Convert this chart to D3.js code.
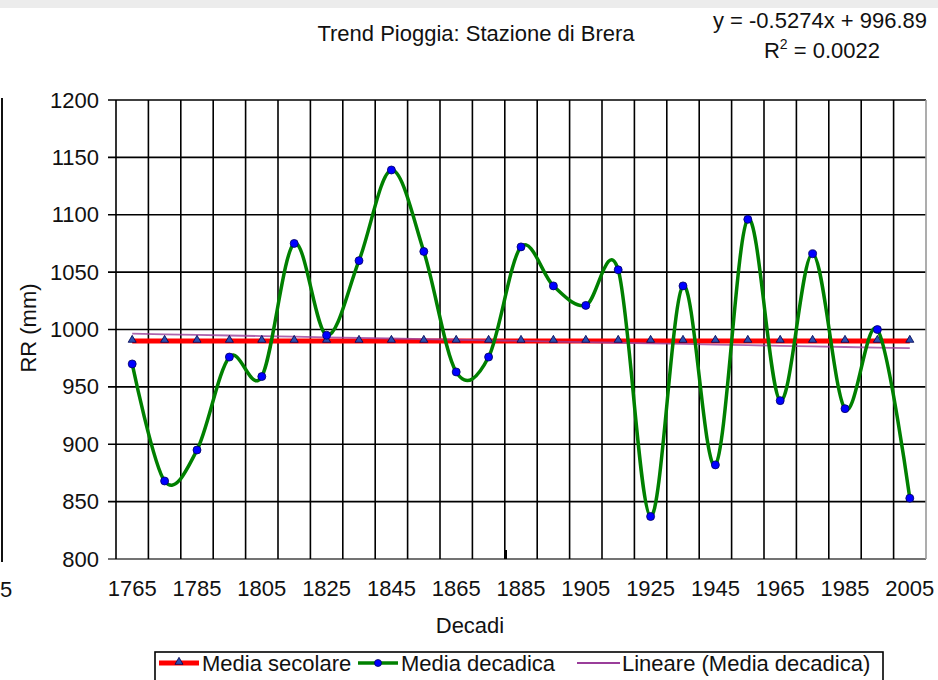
<!DOCTYPE html>
<html>
<head>
<meta charset="utf-8">
<script src="https://cdn.jsdelivr.net/npm/d3@7"></script>
<style>
  body { margin: 0; background: #fff; }
  text { font-family: "Liberation Sans", Arial, sans-serif; fill: #111; }
</style>
</head>
<body>
<div id="chart"></div>
<script>
/**
 * Data
 */
const decades = [1765, 1775, 1785, 1795, 1805, 1815, 1825, 1835, 1845, 1855, 1865, 1875, 1885,
    1895, 1905, 1915, 1925, 1935, 1945, 1955, 1965, 1975, 1985, 1995, 2005];
const mediaDecadica = [970, 868, 895, 976, 959, 1075, 995, 1060, 1139, 1068, 963, 976, 1072,
    1038, 1021, 1052, 837, 1038, 882, 1096, 938, 1066, 931, 1000, 853];
const mediaSecolare = [990, 990, 990, 990, 990, 990, 990, 990, 990, 990, 990, 990, 990,
    990, 990, 990, 990, 990, 990, 990, 990, 990, 990, 990, 990];
// linear trend as printed on the chart: y = -0.5274x + 996.89 (x = 1..25)
const trendSlope = -0.5274, trendIntercept = 996.89;
const xTickLabels = [1765, 1785, 1805, 1825, 1845, 1865, 1885, 1905, 1925, 1945, 1965, 1985, 2005];
const yTicks = [800, 850, 900, 950, 1000, 1050, 1100, 1150, 1200];

/**
 * Constants
 */
const width = 938, height = 680,
    plot = { left: 116, right: 926, top: 100, bottom: 559 },
    fontSize = 22;

const svg = d3.select("#chart")
    .append("svg")
    .attr("width", width)
    .attr("height", height);

// scales
const xScale = d3.scaleBand()
    .domain(decades)
    .range([plot.left, plot.right])
    .padding(0);
const xMid = d => xScale(d) + xScale.bandwidth() / 2;

const yScale = d3.scaleLinear()
    .domain([800, 1200])
    .range([plot.bottom, plot.top]);

// bits of the cropped screenshot around the chart
svg.append("rect").attr("x", 0).attr("y", 0).attr("width", width).attr("height", 8).attr("fill", "#ececec");
svg.append("line").attr("x1", 2).attr("x2", 2).attr("y1", 98).attr("y2", 562)
    .attr("stroke", "#111").attr("stroke-width", 2);
svg.append("text").attr("x", 0).attr("y", 597).attr("font-size", fontSize).text("5");

// grid: horizontal lines (with little ticks to the left)
svg.append("g")
    .selectAll("line")
    .data(yTicks)
    .join("line")
    .attr("x1", plot.left - 8)
    .attr("x2", plot.right)
    .attr("y1", d => yScale(d))
    .attr("y2", d => yScale(d))
    .attr("stroke", d => d === 800 ? "#444" : "#000")
    .attr("stroke-width", 1.6);

// grid: vertical lines at the band edges
const edges = decades.map(d => xScale(d)).concat([xScale.range()[1]]);
svg.append("g")
    .selectAll("line")
    .data(edges)
    .join("line")
    .attr("x1", d => d)
    .attr("x2", d => d)
    .attr("y1", plot.top)
    .attr("y2", plot.bottom)
    .attr("stroke", (d, i) => i === edges.length - 1 ? "#999" : "#000")
    .attr("stroke-width", 1.6);

// small stray mark at the bottom
svg.append("rect").attr("x", 504).attr("y", 550).attr("width", 3).attr("height", 9).attr("fill", "#000");

// axes (labels only, the grid is drawn above)
const yAxis = d3.axisLeft(yScale).tickValues(yTicks).tickFormat(d3.format("d")).tickSize(0).tickPadding(17);
svg.append("g")
    .attr("class", "axis y-axis")
    .attr("transform", `translate(${plot.left},0)`)
    .call(yAxis)
    .call(g => g.select(".domain").remove())
    .selectAll("text")
    .attr("font-size", fontSize)
    .attr("font-family", null)
    .attr("fill", "#111");

const xAxis = d3.axisBottom(xScale).tickValues(xTickLabels).tickFormat(d3.format("d")).tickSize(0).tickPadding(21);
svg.append("g")
    .attr("class", "axis x-axis")
    .attr("transform", `translate(0,${plot.bottom})`)
    .call(xAxis)
    .call(g => g.select(".domain").remove())
    .selectAll("text")
    .attr("font-size", fontSize)
    .attr("font-family", null)
    .attr("fill", "#111");

// axis titles and chart title
svg.append("text")
    .attr("transform", `translate(36,328) rotate(-90)`)
    .attr("text-anchor", "middle")
    .attr("font-size", fontSize)
    .text("RR (mm)");

svg.append("text")
    .attr("x", 470).attr("y", 633)
    .attr("text-anchor", "middle")
    .attr("font-size", fontSize)
    .text("Decadi");

svg.append("text")
    .attr("x", 476).attr("y", 41)
    .attr("text-anchor", "middle")
    .attr("font-size", fontSize)
    .text("Trend Pioggia: Stazione di Brera");

svg.append("text")
    .attr("x", 820).attr("y", 28)
    .attr("text-anchor", "middle")
    .attr("font-size", fontSize)
    .text(`y = ${trendSlope}x + ${trendIntercept}`);

const r2 = svg.append("text")
    .attr("x", 822).attr("y", 58)
    .attr("text-anchor", "middle")
    .attr("font-size", fontSize);
r2.append("tspan").text("R");
r2.append("tspan").attr("font-size", 14).attr("dy", -9).text("2");
r2.append("tspan").attr("dy", 9).text(" = 0.0022");

/**
 * Series
 */
const secolare = decades.map((d, i) => ({ decade: d, value: mediaSecolare[i] }));
const decadica = decades.map((d, i) => ({ decade: d, value: mediaDecadica[i] }));
const trend = decades.map((d, i) => ({ decade: d, value: trendSlope * (i + 1) + trendIntercept }));

const straight = d3.line()
    .x(d => xMid(d.decade))
    .y(d => yScale(d.value));
const smooth = d3.line()
    .curve(d3.curveCardinal.tension(0))
    .x(d => xMid(d.decade))
    .y(d => yScale(d.value));

// Media secolare (red)
svg.append("path")
    .datum(secolare)
    .attr("d", straight)
    .attr("fill", "none")
    .attr("stroke", "#ff0000")
    .attr("stroke-width", 5);

// Lineare trend (purple)
svg.append("path")
    .datum(trend)
    .attr("d", straight)
    .attr("fill", "none")
    .attr("stroke", "#9a3d9a")
    .attr("stroke-opacity", 0.8)
    .attr("stroke-width", 1.8);

// triangle markers of Media secolare
const tri = d3.symbol().type(d3.symbolTriangle).size(28);
svg.append("g")
    .selectAll("path")
    .data(secolare)
    .join("path")
    .attr("d", tri)
    .attr("transform", d => `translate(${xMid(d.decade)},${yScale(d.value) - 1})`)
    .attr("fill", "#2a4fb0")
    .attr("stroke", "#000050")
    .attr("stroke-width", 0.8);

// Media decadica (green, smoothed)
svg.append("path")
    .datum(decadica)
    .attr("d", smooth)
    .attr("fill", "none")
    .attr("stroke", "#008000")
    .attr("stroke-width", 3.5);

svg.append("g")
    .selectAll("circle")
    .data(decadica)
    .join("circle")
    .attr("cx", d => xMid(d.decade))
    .attr("cy", d => yScale(d.value))
    .attr("r", 4)
    .attr("fill", "#0000ff")
    .attr("stroke", "#000060")
    .attr("stroke-width", 0.8);

/**
 * Legend
 */
const legend = svg.append("g").attr("class", "legend");
legend.append("rect")
    .attr("x", 155).attr("y", 652)
    .attr("width", 728).attr("height", 40)
    .attr("fill", "#fff")
    .attr("stroke", "#000")
    .attr("stroke-width", 1.6);

const ly = 663;
// red
legend.append("line").attr("x1", 159).attr("x2", 199).attr("y1", ly).attr("y2", ly)
    .attr("stroke", "#ff0000").attr("stroke-width", 5);
legend.append("path").attr("d", tri).attr("transform", `translate(179,${ly - 1})`)
    .attr("fill", "#2a4fb0").attr("stroke", "#000050").attr("stroke-width", 0.8);
legend.append("text").attr("x", 202).attr("y", ly + 8).attr("font-size", fontSize).text("Media secolare");
// green
legend.append("line").attr("x1", 358).attr("x2", 398).attr("y1", ly).attr("y2", ly)
    .attr("stroke", "#008000").attr("stroke-width", 3.5);
legend.append("circle").attr("cx", 378).attr("cy", ly).attr("r", 3.5)
    .attr("fill", "#0000ff").attr("stroke", "#000060").attr("stroke-width", 0.8);
legend.append("text").attr("x", 401).attr("y", ly + 8).attr("font-size", fontSize).text("Media decadica");
// purple
legend.append("line").attr("x1", 577).attr("x2", 620).attr("y1", ly).attr("y2", ly)
    .attr("stroke", "#9a3d9a").attr("stroke-width", 1.8);
legend.append("text").attr("x", 622).attr("y", ly + 8).attr("font-size", fontSize).text("Lineare (Media decadica)");
</script>
</body>
</html>
